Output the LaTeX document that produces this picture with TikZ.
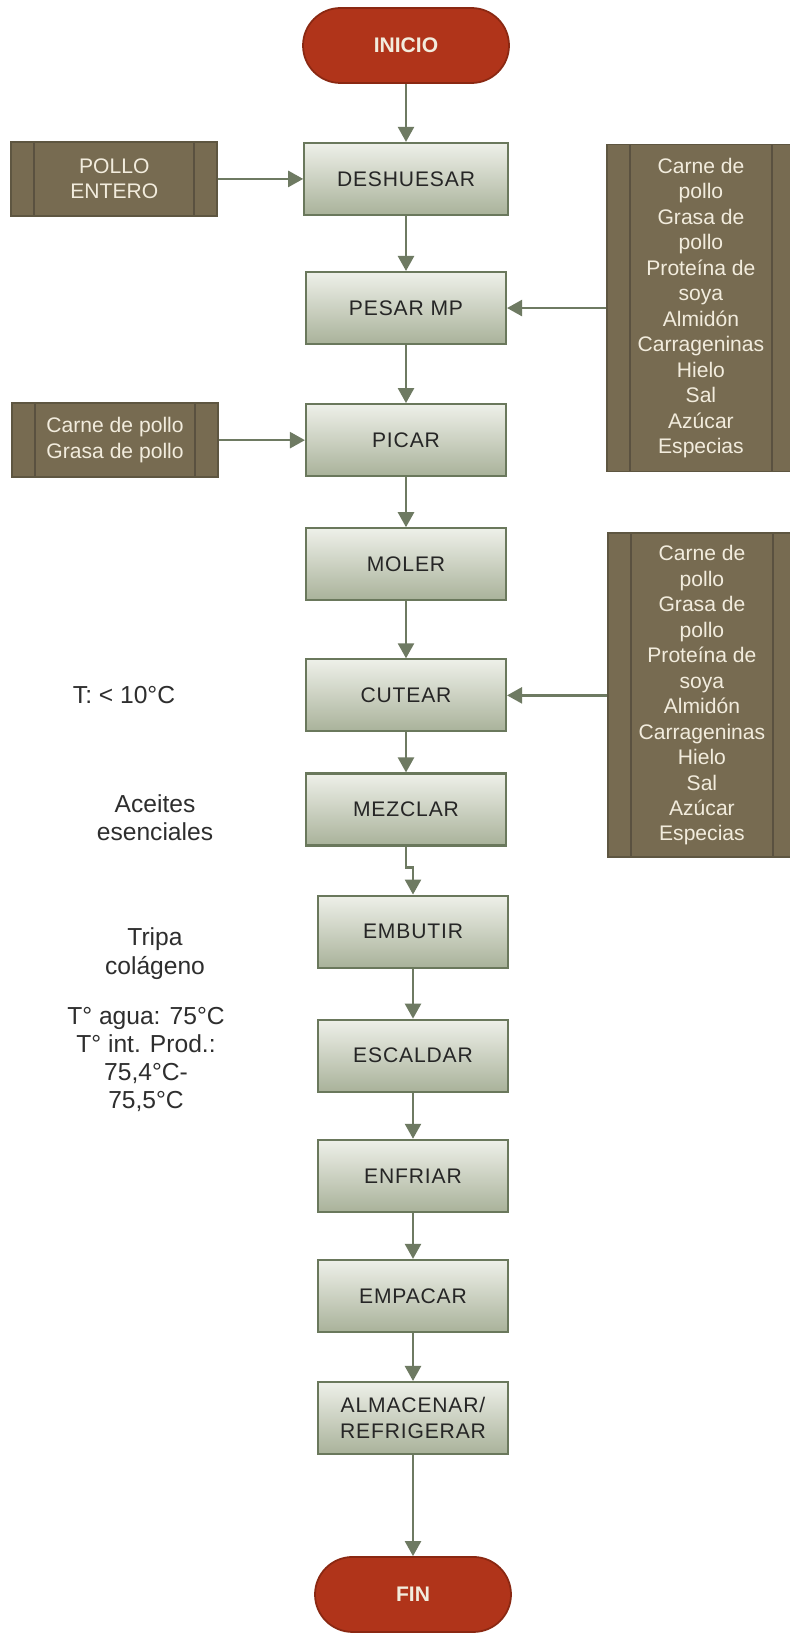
\documentclass[tikz,border=0pt]{standalone}
\usepackage{fontspec}
\setmainfont{Liberation Sans}
\newfontfamily\procfont[LetterSpace=4]{Liberation Sans}
\usetikzlibrary{shapes.geometric, arrows.meta, positioning, calc}
\definecolor{termred}{HTML}{B0341A}
\definecolor{termedge}{HTML}{8A2812}
\definecolor{inbox}{HTML}{776B51}
\definecolor{inedge}{HTML}{5E5641}
\definecolor{inline}{HTML}{5A5140}
\definecolor{intext}{HTML}{F2ECDD}
\definecolor{proctop}{HTML}{EEF0E9}
\definecolor{procbot}{HTML}{A9B29A}
\definecolor{procedge}{HTML}{6A785C}
\definecolor{flowline}{HTML}{6E7A62}
\definecolor{notetext}{HTML}{2E2E2E}
\tikzset{
  startstop/.style={rectangle, rounded corners=0.75cm,
    minimum width=4.12cm, minimum height=1.5cm,
    text centered, draw=termedge, line width=1pt, fill=termred,
    text=intext, font=\fontsize{12}{14}\selectfont\bfseries},
  process/.style={rectangle,
    minimum width=4.0cm, minimum height=1.44cm,
    text centered, draw=procedge, line width=1.2pt,
    top color=proctop, bottom color=procbot, text=black!85,
    font=\procfont\fontsize{12}{15}\selectfont, align=center},
  lowprocess/.style={process, minimum width=3.8cm},
  inputbox/.style={rectangle,
    minimum width=4.12cm, minimum height=1.48cm,
    text centered, draw=inedge, line width=1pt, fill=inbox,
    text=intext, font=\fontsize{12}{14.5}\selectfont, align=center,
    path picture={
      \draw[inline, line width=1pt]
        ([xshift=0.46cm]path picture bounding box.north west) --
        ([xshift=0.46cm]path picture bounding box.south west);
      \draw[inline, line width=1pt]
        ([xshift=-0.46cm]path picture bounding box.north east) --
        ([xshift=-0.46cm]path picture bounding box.south east);
    }},
  note/.style={font=\fontsize{14}{16}\selectfont, text=notetext, align=center},
  arr/.style={-{Triangle[length=0.3cm, width=0.32cm]}, line width=1.4pt, draw=flowline},
}
\begin{document}
\begin{tikzpicture}

\useasboundingbox (0,0) rectangle (15.78,-32.74);
\fill[white] (0,0) rectangle (15.78,-32.74);

% Entry
\node (inicio) [startstop] at (8.12,-0.91) {INICIO};

% Main column
\node (deshuesar) [process, minimum width=4.07cm, below=1.16cm of inicio] {DESHUESAR};
\node (pesar) [process, below=1.1cm of deshuesar] {PESAR MP};
\node (picar) [process, below=1.16cm of pesar] {PICAR};
\node (moler) [process, below=1.0cm of picar] {MOLER};
\node (cutear) [process, below=1.14cm of moler] {CUTEAR};
\node (mezclar) [process, below=0.8cm of cutear] {MEZCLAR};
\node (embutir) [lowprocess, below=0.96cm of mezclar, xshift=0.14cm] {EMBUTIR};
\node (escaldar) [lowprocess, below=1.0cm of embutir] {ESCALDAR};
\node (enfriar) [lowprocess, below=0.92cm of escaldar] {ENFRIAR};
\node (empacar) [lowprocess, below=0.92cm of enfriar] {EMPACAR};
\node (almacenar) [lowprocess, below=0.96cm of empacar] {ALMACENAR/\\REFRIGERAR};

% End
\node (fin) [startstop, minimum width=3.92cm, below=2.02cm of almacenar] {FIN};

% Inputs
\node (pollo) [inputbox, left=1.7cm of deshuesar] {POLLO\\ENTERO};
\node (carne) [inputbox, left=1.72cm of picar]
  {Carne de pollo\\Grasa de pollo};
\node (insumosa) [inputbox, minimum width=3.76cm, minimum height=6.54cm,
  right=1.98cm of pesar]
  {Carne de\\pollo\\Grasa de\\pollo\\Proteína de\\soya\\Almidón\\Carrageninas\\Hielo\\Sal\\Azúcar\\Especias};
\node (insumosb) [inputbox, minimum width=3.76cm, minimum height=6.48cm,
  right=2.0cm of cutear]
  {Carne de\\pollo\\Grasa de\\pollo\\Proteína de\\soya\\Almidón\\Carrageninas\\Hielo\\Sal\\Azúcar\\Especias};

% Notes
\node (tcut) [note] at (2.48,0 |- cutear) {T: < 10°C};
\node (aceites) [note, yshift=-0.17cm] at (3.1,0 |- mezclar) {Aceites\\esenciales};
\node (tripa) [note, yshift=-0.44cm] at (3.1,0 |- embutir) {Tripa\\colágeno};
\node (tesc) [note, yshift=-0.08cm] at (2.92,0 |- escaldar)
  {T° agua: 75°C\\T° int. Prod.:\\75,4°C-\\75,5°C};

% Spine arrows
\draw[arr] (inicio) -- (deshuesar);
\draw[arr] (deshuesar) -- (pesar);
\draw[arr] (pesar) -- (picar);
\draw[arr] (picar) -- (moler);
\draw[arr] (moler) -- (cutear);
\draw[arr] (cutear) -- (mezclar);
\draw[arr] (mezclar.south) -- ++(0,-0.42) -| (embutir.north);
\draw[arr] (embutir) -- (escaldar);
\draw[arr] (escaldar) -- (enfriar);
\draw[arr] (enfriar) -- (empacar);
\draw[arr] (empacar) -- (almacenar);
\draw[arr] (almacenar) -- (fin);

% Side arrows
\draw[arr] (pollo) -- (deshuesar);
\draw[arr] (carne) -- (picar);
\draw[arr] (insumosa) -- (pesar);
\draw[arr] (insumosb) -- (cutear);

\end{tikzpicture}
\end{document}
